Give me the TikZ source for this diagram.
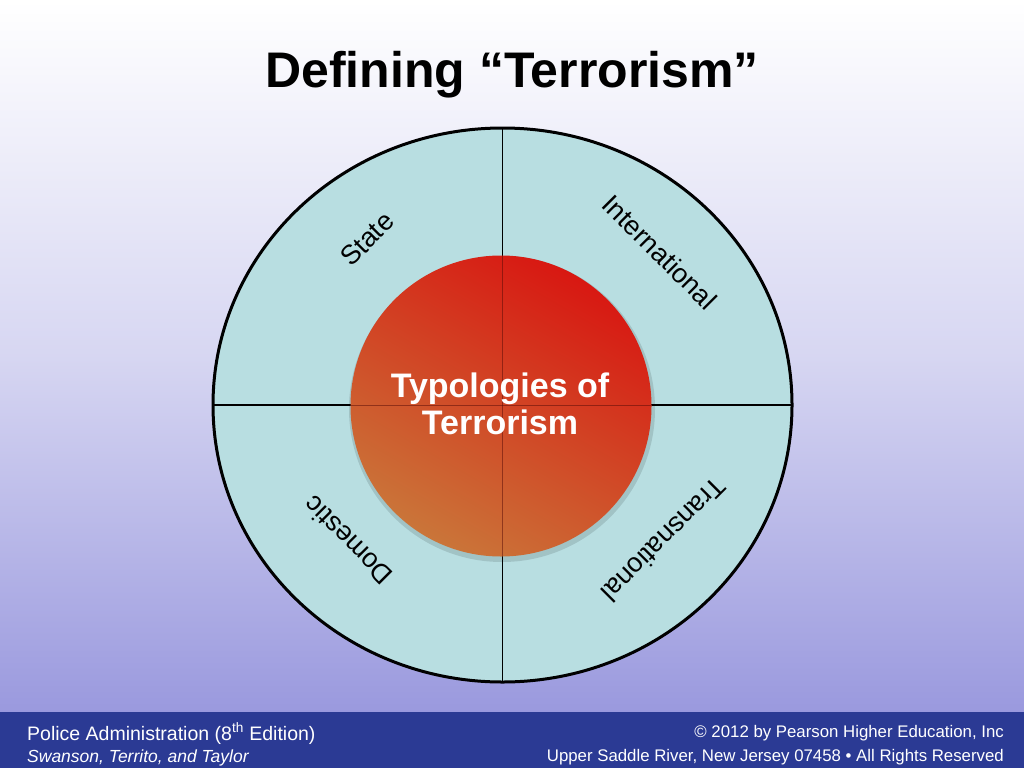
\documentclass[tikz,border=0pt]{standalone}
\usepackage{fontspec}
\setmainfont{Liberation Sans}
\usetikzlibrary{shadings}
\definecolor{bgtop}{HTML}{FFFFFF}
\definecolor{bgbot}{HTML}{9A99DE}
\definecolor{footer}{HTML}{2B3A94}
\definecolor{ringfill}{HTML}{B8DEE1}
\definecolor{hotred}{HTML}{D81812}
\definecolor{warmorange}{HTML}{CA7539}
\tikzset{
  seg/.style={font=\fontsize{27}{30}\selectfont, text=black, inner sep=0pt},
  footl/.style={font=\fontsize{19.5}{22}\selectfont, text=white, inner sep=0pt},
  footr/.style={font=\fontsize{16.8}{20}\selectfont, text=white, inner sep=0pt},
  divider/.style={draw=black, line width=1.3pt},
}
\begin{document}
\begin{tikzpicture}[x=1pt,y=-1pt]
\useasboundingbox (0,0) rectangle (1024,768);
% background
\shade[top color=bgtop, bottom color=bgbot, middle color=bgtop!60!bgbot] (0,0) rectangle (1024,712);
\fill[footer] (0,712) rectangle (1024,768);
% outer ring
\coordinate (c) at (502.5,405);
\coordinate (top) at (502.5,128);
\coordinate (bot) at (502.5,682);
\coordinate (lft) at (213,405);
\coordinate (rgt) at (792,405);
\fill[ringfill] (c) ellipse [x radius=289.5, y radius=277];
\draw[divider] (top) -- (bot);
\draw[divider] (lft) -- (rgt);
\draw[black, line width=3pt] (c) ellipse [x radius=289.5, y radius=277];
% inner circle
\fill[black, opacity=0.12] (502,409) circle (153);
\shade[top color=hotred, bottom color=warmorange, shading angle=-30] (501,406) circle (150.5);
\draw[black!60!hotred, line width=0.6pt, opacity=0.5] (502.5,256) -- (502.5,556);
\draw[black!60!hotred, line width=0.6pt, opacity=0.5] (351,405) -- (651,405);
\node[align=center, text=white, inner sep=0pt, font=\bfseries\fontsize{34}{37}\selectfont] (core) at (500,404) {Typologies of\\ Terrorism};
% segment labels
\node[seg, rotate=45] (state) at (367,239) {State};
\node[seg, rotate=-45] (intl) at (660,252) {International};
\node[seg, rotate=135] (dom) at (348,541) {Domestic};
\node[seg, rotate=225] (trans) at (664,540) {Transnational};
% title
\node[inner sep=0pt, anchor=base, font=\bfseries\fontsize{50}{55}\selectfont] (title) at (512,87) {Defining “Terrorism”};
% footer
\node[footl, anchor=base west] (f1) at (27,740) {Police Administration (8\textsuperscript{th} Edition)};
\node[footl, anchor=base west, font=\itshape\fontsize{17.5}{20}\selectfont] (f2) at (27,762) {Swanson, Territo, and Taylor};
\node[footr, anchor=base east] (f3) at (1004,737) {© 2012 by Pearson Higher Education, Inc};
\node[footr, anchor=base east] (f4) at (1004,761) {Upper Saddle River, New Jersey 07458 • All Rights Reserved};
\end{tikzpicture}
\end{document}
